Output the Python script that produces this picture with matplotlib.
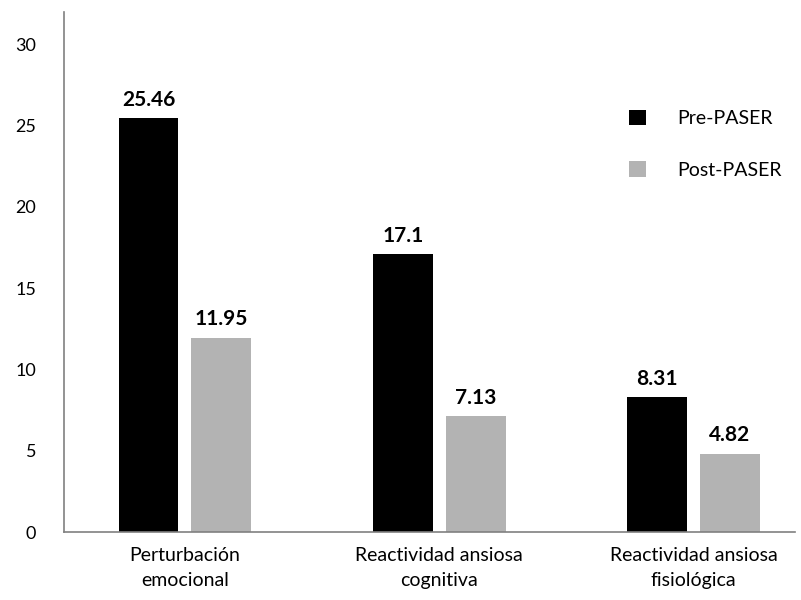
import numpy as np
import matplotlib
matplotlib.use("Agg")
import matplotlib.pyplot as plt

categorias = ["Perturbación\nemocional", "Reactividad ansiosa\ncognitiva", "Reactividad ansiosa\nfisiológica"]
pre_paser = [25.46, 17.1, 8.31]
post_paser = [11.95, 7.13, 4.82]
etiquetas_pre = ["25.46", "17.1", "8.31"]
etiquetas_post = ["11.95", "7.13", "4.82"]

plt.rcParams["font.family"] = ["Lato", "DejaVu Sans"]

fig = plt.figure(figsize=(8.01, 6.0), dpi=100)
ax = fig.add_axes([0.08, 0.1133, 0.913, 0.867])

x = np.arange(len(categorias))
ancho = 0.235
b1 = ax.bar(x - 0.143, pre_paser, ancho, color="black", label="Pre-PASER")
b2 = ax.bar(x + 0.143, post_paser, ancho, color="#b3b3b3", label="Post-PASER")

for barras, textos in ((b1, etiquetas_pre), (b2, etiquetas_post)):
    for b, t in zip(barras, textos):
        ax.annotate(t, (b.get_x() + b.get_width() / 2, b.get_height()),
                    xytext=(0, 6), textcoords="offset points",
                    ha="center", va="bottom", fontsize=15, fontweight="bold")

ax.set_xlim(-0.475, 2.4)
ax.set_ylim(0, 32)
ax.set_yticks([0, 5, 10, 15, 20, 25, 30])
ax.set_xticks(x)
ax.set_xticklabels(categorias, fontsize=14, linespacing=1.55)
ax.tick_params(axis="y", length=0, pad=20, labelsize=13)
ax.tick_params(axis="x", length=0, pad=11)
for s in ("top", "right"):
    ax.spines[s].set_visible(False)
for s in ("left", "bottom"):
    ax.spines[s].set_color("#808080")
    ax.spines[s].set_linewidth(1.2)

ax.legend(loc="upper right", bbox_to_anchor=(1.005, 0.845), frameon=False,
          fontsize=14, handlelength=0.85, handleheight=0.85, labelspacing=1.75,
          handletextpad=1.6)

fig.savefig("out.png", dpi=100)
